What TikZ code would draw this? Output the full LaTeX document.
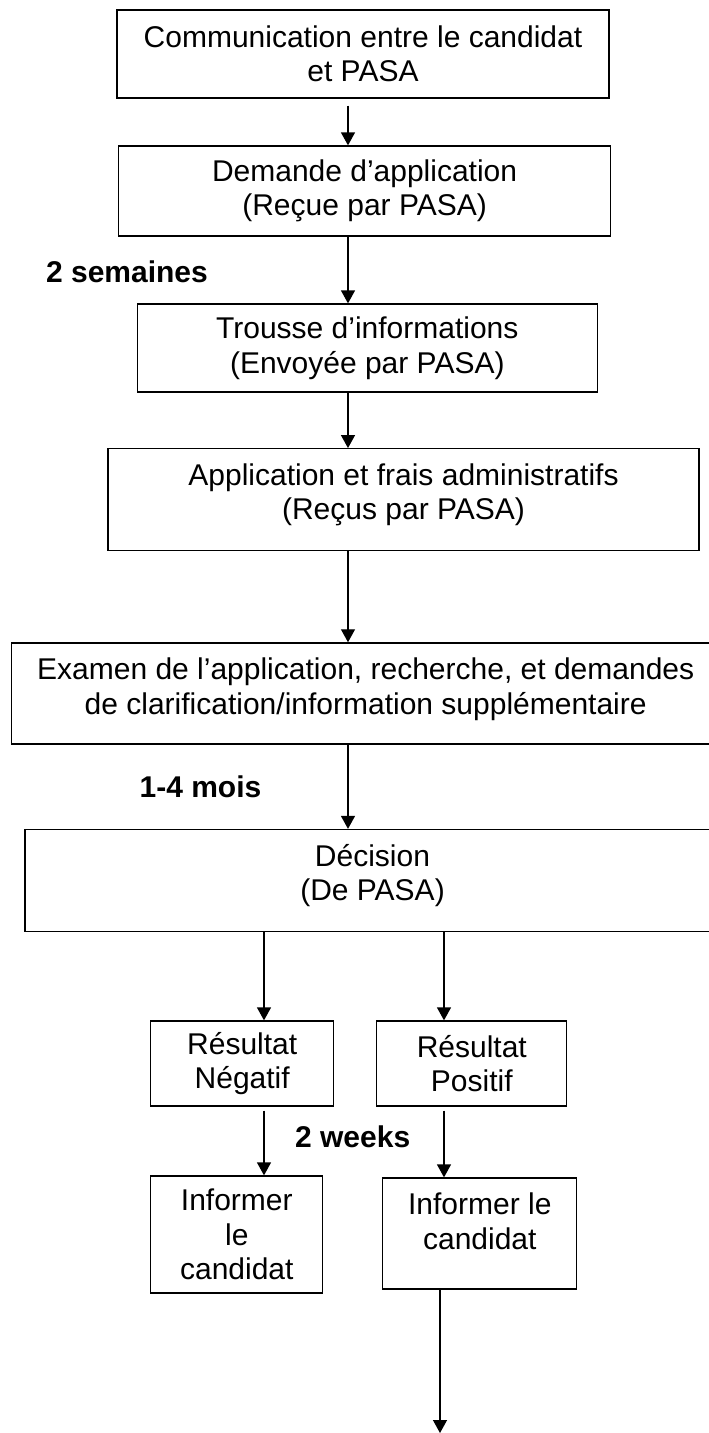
\documentclass[tikz,border=0pt]{standalone}
\usepackage{fontspec}
\setmainfont{Liberation Sans}
\usetikzlibrary{arrows.meta}

\tikzset{
    stepbox/.style = {draw, line width=1.3pt, inner sep=0pt, align=center,
        font=\fontsize{30}{34.5}\selectfont},
    delay/.style = {font=\fontsize{30}{34.5}\selectfont\bfseries},
}

\begin{document}
\begin{tikzpicture}[x=1pt, y=-1pt]
    \useasboundingbox (0,0) rectangle (709,1433);
    \clip (0,0) rectangle (709,1433);

    \coordinate (sp) at (348,0);
    \coordinate (lx) at (264,0);
    \coordinate (rx) at (444,0);
    \coordinate (fin) at (440,1433);

    \node (com) [stepbox, minimum width=492pt, minimum height=88pt] at (363,54) {Communication entre le candidat\\et PASA};
    \node (dem) [stepbox, minimum width=492pt, minimum height=90pt] at (364.6,191) {Demande d’application\\(Reçue par PASA)};
    \node (trs) [stepbox, minimum width=460pt, minimum height=88pt] at (367.3,348) {Trousse d’informations\\(Envoyée par PASA)};
    \node (app) [stepbox, minimum width=591pt, minimum height=102pt] at (403.5,499.7) {Application et frais administratifs\\(Reçus par PASA)\\[-18pt]\mbox{}};
    \node (exa) [stepbox, minimum width=709pt, minimum height=101pt] at (365.7,693.4) {Examen de l’application, recherche, et demandes\\de clarification/information supplémentaire\\[-20pt]\mbox{}};
    \node (dec) [stepbox, minimum width=695pt, minimum height=102pt] at (372.5,880.5) {Décision\\(De PASA)\\[-18pt]\mbox{}};

    \node (neg) [stepbox, minimum width=183pt, minimum height=85pt] at (242.2,1063.5) {Résultat\\Négatif};
    \node (pos) [stepbox, minimum width=190pt, minimum height=85pt] at (471.8,1063.5) {Résultat\\Positif};
    \node (infn) [stepbox, minimum width=172pt, minimum height=117pt] at (236.8,1234.5) {Informer\\le\\candidat};
    \node (infp) [stepbox, minimum width=194pt, minimum height=111pt] at (479.8,1233.5) {Informer le\\candidat\\[-10pt]\mbox{}};

    \node (d1) [delay] at (127,272) {2 semaines};
    \node (d2) [delay] at (200.5,786.7) {1-4 mois};
    \node (d3) [delay] at (352.7,1136.7) {2 weeks};

\path [-{Triangle[length=13pt,width=14pt]}, line width=1.3pt]
    (com.south -| sp) edge [shorten <=7pt] (dem.north -| sp)
    (dem.south -| sp) edge (trs.north -| sp)
    (trs.south -| sp) edge (app.north -| sp)
    (app.south -| sp) edge (exa.north -| sp)
    (exa.south -| sp) edge (dec.north -| sp)
    (dec.south -| lx) edge (neg.north -| lx)
    (dec.south -| rx) edge (pos.north -| rx)
    (neg.south -| lx) edge [shorten <=4pt] (infn.north -| lx)
    (pos.south -| rx) edge [shorten <=4pt] (infp.north -| rx)
    (infp.south -| fin) edge (fin);

\end{tikzpicture}
\end{document}
